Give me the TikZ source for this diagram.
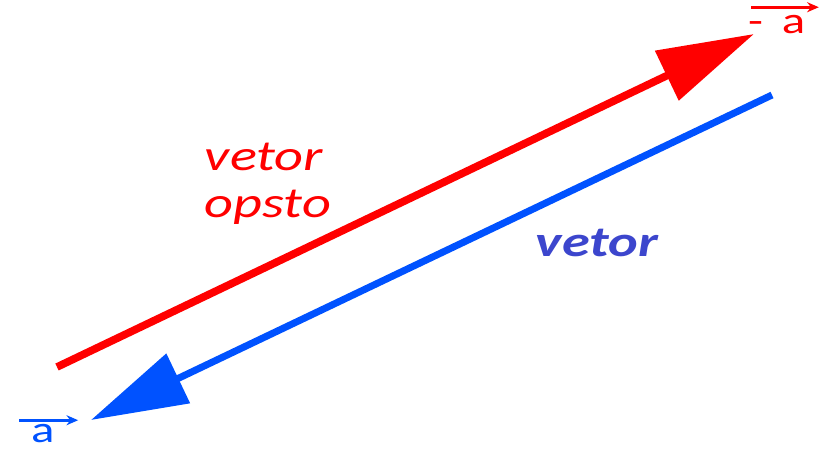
\documentclass[tikz,border=0pt]{standalone}
\usepackage{fontspec}
\setmainfont{Carlito}
\newfontfamily\widefont[FakeStretch=1.3]{Carlito}
\usetikzlibrary{arrows.meta,positioning}
\definecolor{vecred}{RGB}{255,0,0}
\definecolor{vecblue}{RGB}{0,82,255}
\definecolor{labblue}{RGB}{60,70,205}
\tikzset{
  vecline/.style={line width=2.3mm,-{Triangle[length=2.9cm,width=1.6cm]}},
  vecname/.style={font=\widefont\fontsize{32}{32}\selectfont,inner sep=0pt},
  tag/.style={font=\widefont\itshape\fontsize{37}{40}\selectfont,inner sep=0pt,align=left}
}
\begin{document}
\begin{tikzpicture}[x=0.03cm,y=-0.03cm]
    \useasboundingbox (0,0) rectangle (819,452);
    % end points of the two vectors
    \coordinate (opstart) at (57,367);
    \coordinate (opend) at (754,34);
    \coordinate (vstart) at (772,95);
    \coordinate (vend) at (91,420);
    \draw[vecline,vecred] (opstart) -- (opend);
    \draw[vecline,vecblue,line width=2.1mm] (vstart) -- (vend);
    % labels
    \node[tag,vecred] (optag) at (268,184) {vetor\\opsto};
    \node[tag,labblue,font=\widefont\itshape\bfseries\fontsize{37}{40}\selectfont] (vtag) at (597,243) {vetor};
    \node[vecname,vecred,anchor=base west] (minusa) at (748,34) {-\,\,\,a};
    \draw[vecred,line width=0.8mm,-{Stealth[length=3.5mm,width=3mm]}]
      ([xshift=1mm,yshift=2.5mm]minusa.north west) -- ([xshift=4mm,yshift=2.5mm]minusa.north east);
    \node[vecname,vecblue,anchor=base west] (plusa) at (31,442) {a};
    \draw[vecblue,line width=0.8mm,-{Stealth[length=3.5mm,width=3mm]}]
      ([xshift=-3.5mm,yshift=1mm]plusa.north west) -- ([xshift=7mm,yshift=1mm]plusa.north east);
\end{tikzpicture}
\end{document}
